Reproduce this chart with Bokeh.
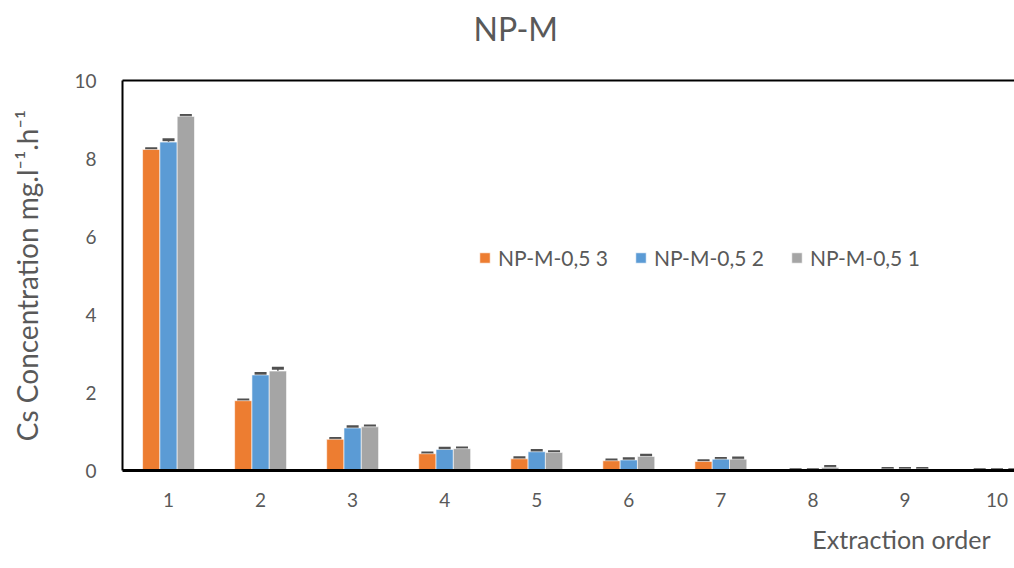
from bokeh.plotting import figure
from bokeh.models import (ColumnDataSource, Whisker, TeeHead, FixedTicker, LinearAxis,
                          Legend, LegendItem, Range1d, Title)
from bokeh.transform import dodge
from bokeh.embed import file_html
from bokeh.resources import INLINE

order = [1, 2, 3, 4, 5, 6, 7, 8, 9, 10]
series_names = ["NP-M-0,5 3", "NP-M-0,5 2", "NP-M-0,5 1"]
s3 = [8.23, 1.79, 0.80, 0.43, 0.30, 0.25, 0.23, 0.01, 0.04, 0.01]
s2 = [8.42, 2.45, 1.09, 0.54, 0.48, 0.27, 0.29, 0.01, 0.04, 0.01]
s1 = [9.08, 2.55, 1.12, 0.56, 0.46, 0.36, 0.29, 0.08, 0.04, 0.01]
e3 = [0.02, 0.02, 0.02, 0.02, 0.03, 0.02, 0.02, 0.01, 0.01, 0.01]
e2 = [0.06, 0.04, 0.03, 0.03, 0.03, 0.03, 0.02, 0.01, 0.01, 0.01]
e1 = [0.02, 0.07, 0.02, 0.02, 0.02, 0.03, 0.03, 0.02, 0.01, 0.01]
colors = ["#ED7D31", "#5B9BD5", "#A5A5A5"]
title_text = "NP-M"
ylabel_text = "Cs Concentration mg.l\u207b\u00b9.h\u207b\u00b9"
xlabel_text = "Extraction order"

FONT = "Lato"
TXT = "#595959"

p = figure(width=1014, height=568, output_backend="svg", toolbar_location=None,
           x_range=Range1d(0.5, 10.19), y_range=Range1d(0, 10),
           min_border_left=122, min_border_right=0, min_border_top=80, min_border_bottom=98)
p.title = Title(text=title_text, align="left", offset=351, text_font=FONT,
                text_font_size="32px", text_color=TXT, text_font_style="normal")
p.outline_line_color = None
p.xgrid.visible = False
p.ygrid.visible = False

bw = 0.188
offsets = [-bw, 0.0, bw]
vals = [s3, s2, s1]
errs = [e3, e2, e1]
items = []
for name, v, e, off, c in zip(series_names, vals, errs, offsets, colors):
    src = ColumnDataSource(dict(x=order, top=v,
                                lo=[a - b for a, b in zip(v, e)],
                                hi=[a + b for a, b in zip(v, e)]))
    r = p.vbar(x=dodge("x", off), top="top", width=bw, source=src,
               fill_color=c, line_color="white", line_width=0.6)
    items.append(LegendItem(label=name, renderers=[r]))
    w = Whisker(base=dodge("x", off), lower="lo", upper="hi", source=src,
                line_color="#505050", line_width=1.5,
                upper_head=TeeHead(size=12, line_color="#505050", line_width=3),
                lower_head=TeeHead(size=12, line_color="#505050", line_width=3))
    p.add_layout(w)

legend = Legend(items=items, orientation="horizontal", location=(356, 200),
                label_text_font=FONT, label_text_font_size="21px", label_text_color=TXT,
                glyph_width=13, glyph_height=13, label_standoff=7, spacing=26,
                padding=0, margin=0, background_fill_alpha=0, border_line_color=None)
p.add_layout(legend, "center")

# axes
p.yaxis.ticker = FixedTicker(ticks=[0, 2, 4, 6, 8, 10])
p.yaxis.axis_label = ylabel_text
p.yaxis.axis_label_text_font = FONT
p.yaxis.axis_label_text_font_size = "28px"
p.yaxis.axis_label_text_font_style = "normal"
p.yaxis.axis_label_text_color = TXT
p.yaxis.axis_label_standoff = 27
p.yaxis.major_label_text_font = FONT
p.yaxis.major_label_text_font_size = "19px"
p.yaxis.major_label_text_color = TXT
p.yaxis.major_label_standoff = 20
p.yaxis.major_tick_line_color = None
p.yaxis.minor_tick_line_color = None
p.yaxis.axis_line_color = "black"
p.yaxis.axis_line_width = 2

p.xaxis.ticker = FixedTicker(ticks=order)
p.xaxis.major_label_text_font = FONT
p.xaxis.major_label_text_font_size = "19px"
p.xaxis.major_label_text_color = TXT
p.xaxis.major_label_standoff = 16
p.xaxis.major_tick_line_color = None
p.xaxis.minor_tick_line_color = None
p.xaxis.axis_line_color = "black"
p.xaxis.axis_line_width = 3

top_axis = LinearAxis(ticker=FixedTicker(ticks=[]), major_label_text_font_size="0px",
                      axis_label="\u00a0", axis_label_text_font_size="22px",
                      axis_label_standoff=0,
                      axis_line_color="black", axis_line_width=2,
                      major_tick_line_color=None, minor_tick_line_color=None)
p.add_layout(top_axis, "above")

xt = Title(text=xlabel_text, align="right", text_font=FONT, text_font_size="25px",
           text_color=TXT, text_font_style="normal", offset=24, standoff=25)
p.add_layout(xt, "below")

open("out.html", "w").write(file_html(p, INLINE))
